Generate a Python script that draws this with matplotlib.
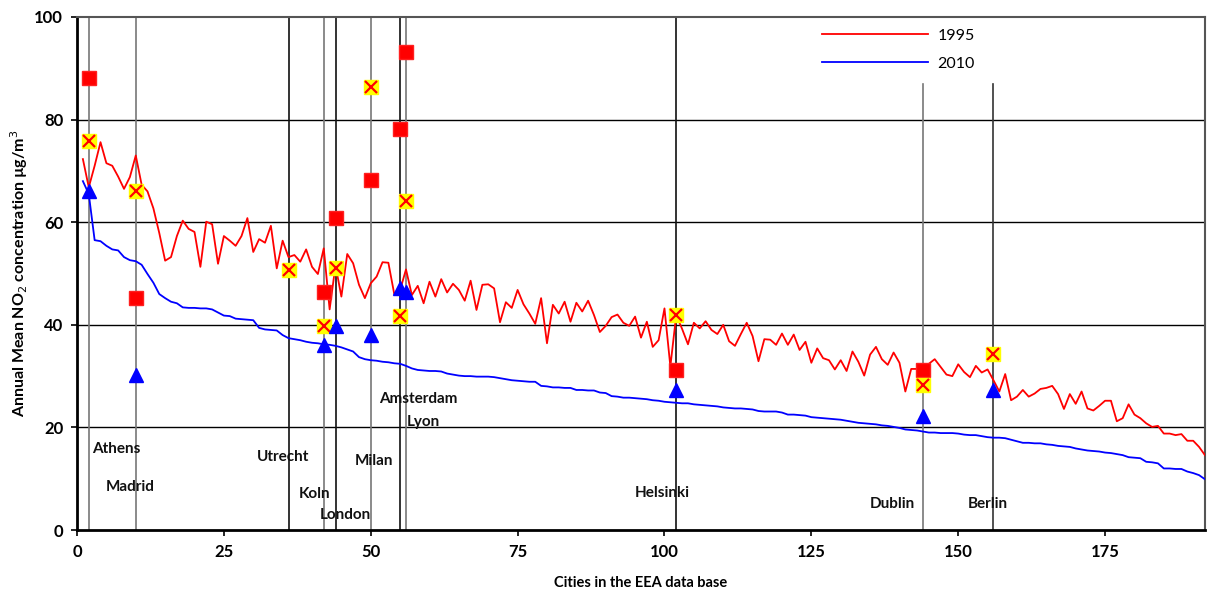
import matplotlib
matplotlib.use("Agg")
import matplotlib.pyplot as plt
import numpy as np
from matplotlib.lines import Line2D

plt.rcParams["font.family"] = ["Lato", "DejaVu Sans"]

# annual mean NO2 per city, ranked by 2010 value (EEA data base)
no2_1995 = [
    72.3, 66.8, 71.0, 75.6, 71.5, 71.0, 68.9, 66.5, 68.8, 73.0,
    67.3, 66.0, 62.7, 57.9, 52.5, 53.2, 57.3, 60.3, 58.7, 58.1,
    51.3, 60.1, 59.6, 51.9, 57.3, 56.4, 55.4, 57.3, 60.8, 54.2,
    56.7, 56.0, 59.3, 51.0, 56.4, 53.2, 53.6, 52.3, 54.7, 51.3,
    49.9, 54.9, 43.0, 51.6, 45.5, 53.8, 52.0, 47.8, 45.2, 48.1,
    49.4, 52.2, 52.1, 46.0, 46.8, 50.8, 45.8, 47.6, 44.2, 48.4,
    45.5, 48.9, 46.3, 48.0, 46.8, 44.7, 48.6, 42.9, 47.8, 47.9,
    47.1, 40.5, 44.4, 43.3, 46.8, 44.0, 42.2, 40.2, 45.2, 36.4,
    43.9, 42.2, 44.5, 40.6, 44.3, 42.6, 44.7, 41.9, 38.6, 39.8,
    41.5, 42.0, 40.4, 39.8, 41.6, 37.5, 40.6, 35.7, 37.0, 43.2,
    31.9, 41.9, 39.2, 36.2, 40.4, 39.3, 40.7, 39.0, 38.2, 40.0,
    36.8, 35.9, 38.2, 40.4, 37.8, 32.9, 37.2, 37.1, 36.1, 38.3,
    36.1, 38.1, 35.1, 36.7, 32.6, 35.4, 33.5, 33.1, 31.3, 33.1,
    31.0, 34.8, 32.8, 30.1, 34.2, 35.7, 33.3, 32.2, 34.6, 32.6,
    27.0, 31.4, 31.4, 31.2, 32.4, 33.3, 31.8, 30.3, 30.0, 32.3,
    30.8, 29.8, 32.0, 30.7, 31.3, 29.2, 27.0, 30.4, 25.3, 26.0,
    27.3, 26.0, 26.6, 27.5, 27.7, 28.1, 26.5, 23.6, 26.5, 24.6,
    27.0, 23.7, 23.3, 24.2, 25.2, 25.2, 21.2, 21.8, 24.5, 22.5,
    21.8, 20.8, 20.1, 20.3, 18.8, 18.8, 18.5, 18.7, 17.4, 17.4,
    16.2, 14.6,
]
no2_2010 = [
    68.0, 65.5, 56.5, 56.3, 55.4, 54.7, 54.5, 53.2, 52.6, 52.4,
    51.7, 49.9, 48.2, 46.0, 45.2, 44.5, 44.2, 43.4, 43.3, 43.3,
    43.2, 43.2, 43.0, 42.4, 41.8, 41.7, 41.2, 41.1, 41.0, 40.9,
    39.4, 39.1, 39.0, 38.9, 38.0, 37.4, 37.2, 37.0, 36.7, 36.5,
    36.4, 36.2, 36.1, 35.9, 35.6, 35.2, 34.8, 33.7, 33.3, 33.1,
    33.0, 32.8, 32.7, 32.5, 32.4, 32.0, 31.5, 31.2, 31.1, 31.0,
    31.0, 30.9, 30.5, 30.3, 30.1, 30.0, 30.0, 29.9, 29.9, 29.9,
    29.8, 29.6, 29.4, 29.2, 29.1, 29.0, 28.9, 28.9, 28.1, 28.0,
    27.8, 27.8, 27.7, 27.7, 27.3, 27.3, 27.2, 27.2, 26.8, 26.7,
    26.1, 26.0, 25.8, 25.8, 25.7, 25.6, 25.5, 25.3, 25.2, 25.0,
    24.9, 24.8, 24.7, 24.7, 24.5, 24.4, 24.3, 24.2, 24.1, 23.9,
    23.8, 23.7, 23.7, 23.6, 23.5, 23.2, 23.1, 23.1, 23.1, 22.9,
    22.5, 22.5, 22.4, 22.3, 22.0, 21.9, 21.8, 21.7, 21.6, 21.5,
    21.3, 21.1, 20.9, 20.8, 20.7, 20.6, 20.4, 20.3, 20.1, 19.9,
    19.6, 19.5, 19.4, 19.2, 19.0, 19.0, 18.9, 18.9, 18.9, 18.8,
    18.6, 18.5, 18.5, 18.3, 18.1, 18.0, 18.0, 17.9, 17.6, 17.3,
    17.0, 17.0, 16.9, 16.9, 16.7, 16.6, 16.4, 16.3, 16.2, 15.9,
    15.7, 15.5, 15.4, 15.3, 15.1, 15.0, 14.8, 14.6, 14.2, 14.1,
    14.0, 13.3, 13.2, 13.0, 12.0, 12.0, 11.9, 11.9, 11.4, 11.1,
    10.7, 9.9,
]

city_names = ["Athens", "Madrid", "Utrecht", "Koln", "London", "Milan",
              "Amsterdam", "Lyon", "Helsinki", "Dublin", "Berlin"]
city_rank = [2, 10, 36, 42, 44, 50, 55, 56, 102, 144, 156]
city_square = [88.2, 45.2, np.nan, 46.3, 60.8, 68.2, 78.2, 93.2, 31.2, 31.2, np.nan]
city_cross = [75.8, 66.1, 50.7, 39.8, 51.0, 86.3, 41.7, 64.1, 41.9, 28.3, 34.3]
city_triangle = [66.1, 30.2, np.nan, 36.1, 39.8, 38.1, 47.2, 46.3, 27.3, 22.2, 27.3]

# layout of the city annotations (data coords, left aligned)
label_pos = [(2.6, 15.8), (4.9, 8.4), (30.6, 14.2), (37.8, 7.0), (41.3, 2.9),
             (47.3, 13.4), (51.4, 25.5), (56.2, 21.1), (94.9, 7.2),
             (135.0, 5.1), (151.7, 5.1)]
vline_color = ["#777777", "#777777", "#111111", "#777777", "#111111", "#777777",
               "#111111", "#777777", "#111111", "#777777", "#333333"]
vline_top = [100, 100, 100, 100, 100, 100, 100, 100, 100, 87, 87]

fig = plt.figure(figsize=(12.11, 5.94), dpi=100)
ax = fig.add_axes([0.0636, 0.1077, 0.9314, 0.8637])

x = np.arange(1, len(no2_1995) + 1)

for yv in [20, 40, 60, 80]:
    ax.axhline(yv, color="black", lw=1.0, zorder=1)

for r, c, top in zip(city_rank, vline_color, vline_top):
    ax.plot([r, r], [0, top], color=c, lw=1.2, zorder=2)

ax.plot(x, no2_1995, color="#ff0000", lw=1.3, zorder=3, label="1995")
ax.plot(x, no2_2010, color="#0000ff", lw=1.3, zorder=3, label="2010")

ax.plot(city_rank, city_square, ls="none", marker="s", ms=9.5,
        color="#ff0000", mec="#ff2020", zorder=4)
ax.plot(city_rank, city_cross, ls="none", marker="s", ms=9.5,
        color="#ffff00", mec="#ffff00", zorder=5)
ax.plot(city_rank, city_cross, ls="none", marker="x", ms=8,
        mew=1.6, color="#ff0000", zorder=6)
ax.plot(city_rank, city_triangle, ls="none", marker="^", ms=10,
        color="#0000ff", zorder=7)

for name, (lx, ly) in zip(city_names, label_pos):
    ax.text(lx, ly, name, ha="left", va="center", fontsize=11,
            fontweight="bold", color="#111111", zorder=8)

ax.set_xlim(0, 192)
ax.set_ylim(0, 100)
ax.set_xticks(np.arange(0, 176, 25))
ax.set_yticks(np.arange(0, 101, 20))
ax.tick_params(axis="both", direction="out", length=4, width=1.2,
               labelsize=12, pad=6)
for lab in ax.get_xticklabels() + ax.get_yticklabels():
    lab.set_fontweight("bold")

for side in ["left", "bottom"]:
    ax.spines[side].set_linewidth(2.0)
    ax.spines[side].set_color("black")
for side in ["top", "right"]:
    ax.spines[side].set_linewidth(1.5)
    ax.spines[side].set_color("#555555")

fig.text(0.529, 0.018, "Cities in the EEA data base", ha="center",
         va="center", fontsize=10.5, fontweight="bold")
fig.text(0.016, 0.54, "Annual Mean NO$_2$ concentration µg/m$^3$",
         rotation=90, ha="center", va="center", fontsize=11.5,
         fontweight="bold")

leg_handles = [Line2D([], [], color="#ff0000", lw=1.3),
               Line2D([], [], color="#0000ff", lw=1.3)]
ax.legend(leg_handles, ["1995", "2010"], loc="upper left",
          bbox_to_anchor=(0.648, 1.005), frameon=False, handlelength=6.6,
          handletextpad=0.6, labelspacing=0.85, fontsize=11.5)

fig.savefig("out.png", dpi=100)
